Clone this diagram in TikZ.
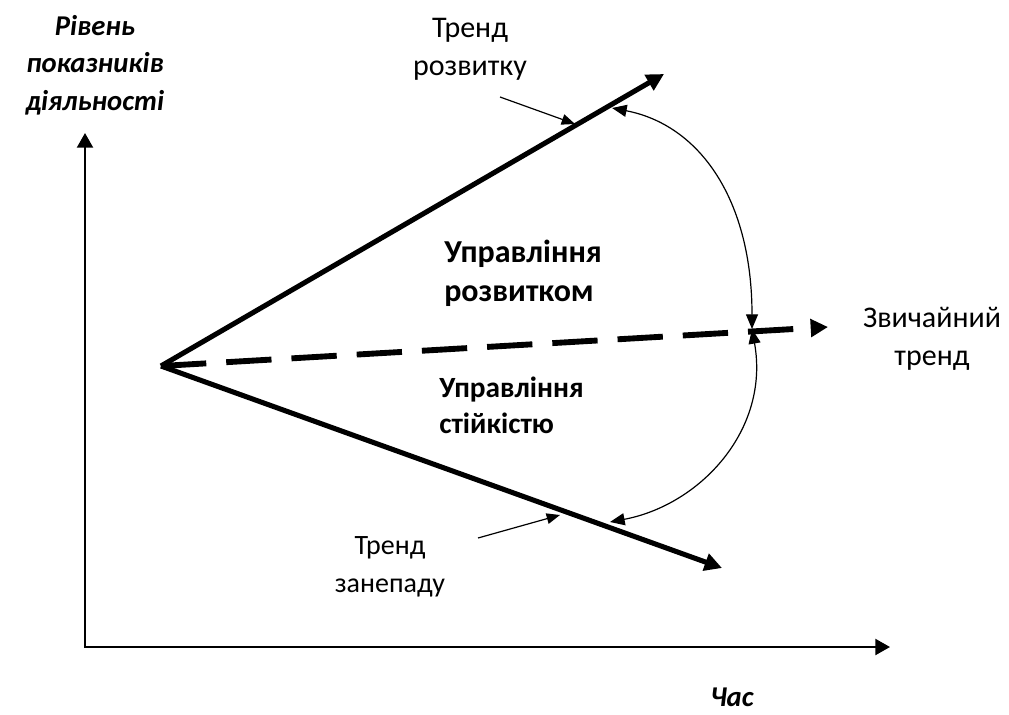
\documentclass[tikz,border=0pt]{standalone}
\usepackage{fontspec}
\setmainfont{Carlito}
\usetikzlibrary{arrows.meta, calc}

\begin{document}
\begin{tikzpicture}[x=0.75pt, y=-0.75pt,
  axis/.style={line width=1.6pt, -{Triangle[length=11pt, width=12pt]}},
  trend/.style={line width=3.8pt, -{Triangle[length=13pt, width=13pt]}},
  usual/.style={trend, line width=4.4pt, dash pattern=on 34pt off 15pt},
  swing/.style={line width=0.9pt, {Triangle[length=11pt, width=9pt]}-{Triangle[length=11pt, width=9pt]}},
  note/.style={line width=0.9pt, -{Triangle[length=10pt, width=8pt]}},
  lbl/.style={font=\fontsize{22.5}{28.5}\selectfont, align=center, inner sep=0pt},
  zone/.style={font=\fontsize{24}{29.5}\selectfont\bfseries, align=left, inner sep=0pt}
]
\useasboundingbox (0,0) rectangle (1009,714);
% axes
\coordinate (orig) at (85,647);
\coordinate (ytip) at (85,133);
\coordinate (xtip) at (890,647);
\draw[axis] (orig) -- (ytip);
\draw[axis] ($(orig)+(-1,0)$) -- (xtip);
\node[font=\fontsize{21.5}{28}\selectfont\bfseries\itshape, align=center, inner sep=0pt] (lvl) at (95,65) {Рівень\\показників\\діяльності};
\node[font=\fontsize{21.5}{28}\selectfont\bfseries\itshape, inner sep=0pt] (time) at (732,697) {Час};
% trends
\coordinate (O)    at (161,366);
\coordinate (up)   at (664,74);
\coordinate (down) at (722,568);
\coordinate (norm) at (828,327);
\draw[trend] (O) -- (up);
\draw[trend] (O) -- (down);
\draw[usual] (O) -- (norm);
% swing arcs
\coordinate (a1) at (612,108);
\coordinate (a2) at (752,329);
\coordinate (a3) at (610,522);
\draw[swing] (a1) .. controls (700,125) and (752,200) .. (a2);
\draw[swing] (a2) .. controls (770,430) and (700,505) .. (a3);
% labels
\node[lbl] (rise) at (470,49) {Тренд\\розвитку};
\node[lbl, font=\fontsize{21}{28.5}\selectfont] (fall) at (390,567) {Тренд\\занепаду};
\node[lbl] (plain) at (932,339) {Звичайний\\тренд};
\coordinate (r1) at (500,97);
\coordinate (r2) at (575,124);
\coordinate (f1) at (478,538);
\coordinate (f2) at (560,515);
\draw[note] (r1) -- (r2);
\draw[note] (f1) -- (f2);
\node[zone, anchor=west] (grow) at (444,273) {Управління\\розвитком};
\node[zone, font=\fontsize{22}{27}\selectfont\bfseries, anchor=west] (keep) at (439,405) {Управління\\стійкістю};
\end{tikzpicture}
\end{document}
